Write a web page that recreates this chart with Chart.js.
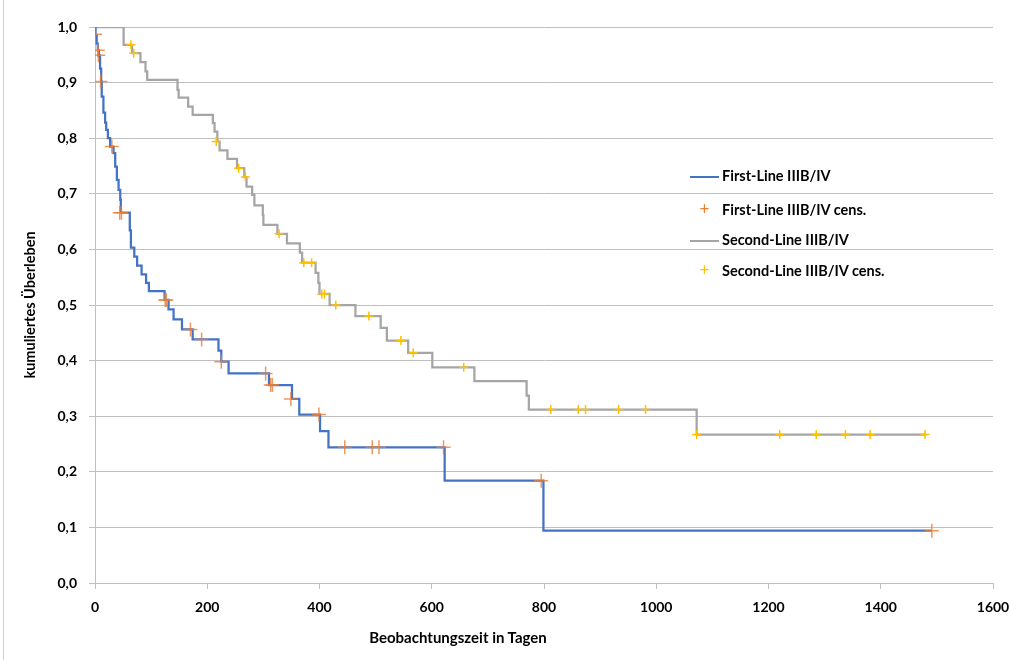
<!DOCTYPE html>
<html>
<head>
<meta charset="utf-8">
<script src="https://cdn.jsdelivr.net/npm/chart.js@4"></script>
<style>
  body { margin: 0; background: #fff; }
  #wrap { position: relative; width: 1009px; height: 660px; font-family: Lato, "Open Sans", sans-serif; overflow: hidden; }
  #frame { position: absolute; left: 3px; top: 0; height: 660px; border-left: 1px solid #d0d0d0; }
  #xtitle { position: absolute; left: 458px; top: 628px; transform: translateX(-50%); font-weight: bold; font-size: 15px; color: #000; white-space: nowrap; }
  .item { position: absolute; left: 690px; height: 20px; line-height: 20px; font-weight: bold; font-size: 14.5px; color: #000; white-space: nowrap; }
  .item .ln { display: inline-block; width: 29px; height: 2px; vertical-align: middle; margin-right: 3px; }
  .item .cx { display: inline-block; width: 29px; margin-right: 3px; text-align: center; font-weight: normal; font-size: 17px; }
</style>
</head>
<body>
<div id="wrap">
  <canvas id="chart" width="1009" height="660"></canvas>
  <div id="frame"></div>
  <div id="xtitle">Beobachtungszeit in Tagen</div>
  <div class="item" style="top:166px"><span class="ln" style="background:#4472C4"></span>First-Line IIIB/IV</div>
  <div class="item" style="top:199px"><span class="cx" style="color:#ED7D31">+</span>First-Line IIIB/IV cens.</div>
  <div class="item" style="top:230px"><span class="ln" style="background:#A5A5A5"></span>Second-Line IIIB/IV</div>
  <div class="item" style="top:260px"><span class="cx" style="color:#FFC000">+</span>Second-Line IIIB/IV cens.</div>
</div>
<script>
// first-line: Kaplan-Meier steps (day, survival after the event)
const firstDays = [0, 1, 3, 5, 7, 9, 11, 12, 15, 18, 20, 23, 27, 33, 36, 39, 42, 45, 46,
  62, 64, 70, 75, 83, 91, 96, 124, 131, 140, 155, 174, 220, 225, 238, 310, 351, 364,
  401, 416, 623, 799, 1491];
const firstSurv = [1.0, 0.985, 0.97, 0.958, 0.949, 0.925, 0.902, 0.875, 0.846, 0.828, 0.815, 0.80, 0.785,
  0.773, 0.749, 0.725, 0.707, 0.689, 0.666, 0.634, 0.603, 0.587, 0.571, 0.555, 0.540, 0.525,
  0.509, 0.492, 0.474, 0.456, 0.438, 0.418, 0.398, 0.377, 0.356, 0.331, 0.303, 0.273, 0.244,
  0.184, 0.094, 0.094];

// first-line censored
const firstCensDays = [0, 5, 6, 10, 30, 44, 47, 125, 127, 170, 190, 225, 304, 313, 316, 349,
  399, 445, 494, 506, 621, 795, 1491];
const firstCensSurv = [0.987, 0.958, 0.949, 0.902, 0.785, 0.666, 0.666, 0.509, 0.509, 0.456,
  0.438, 0.398, 0.377, 0.356, 0.356, 0.331, 0.303, 0.244, 0.244, 0.244, 0.244, 0.184, 0.094];

// second-line: Kaplan-Meier steps
const secondDays = [0, 51, 66, 81, 90, 93, 147, 149, 166, 174, 210, 213, 218, 222, 236, 253,
  266, 270, 280, 284, 299, 300, 325, 342, 365, 369, 393, 398, 400, 418, 464, 509, 520, 558,
  601, 676, 769, 773, 1072, 1479];
const secondSurv = [1.0, 0.968, 0.953, 0.937, 0.920, 0.905, 0.887, 0.873, 0.857, 0.842, 0.827,
  0.812, 0.794, 0.778, 0.763, 0.746, 0.730, 0.713, 0.698, 0.679, 0.662, 0.644, 0.628, 0.611,
  0.594, 0.576, 0.558, 0.540, 0.520, 0.500, 0.480, 0.459, 0.436, 0.414, 0.388, 0.363, 0.337,
  0.312, 0.267, 0.267];

// second-line censored
const secondCensDays = [64, 69, 216, 256, 268, 328, 372, 386, 404, 409, 429, 488, 545, 567,
  657, 812, 861, 874, 933, 981, 1072, 1220, 1285, 1337, 1381, 1479];
const secondCensSurv = [0.968, 0.953, 0.794, 0.746, 0.730, 0.628, 0.576, 0.576, 0.520, 0.520,
  0.500, 0.480, 0.436, 0.414, 0.388, 0.312, 0.312, 0.312, 0.312, 0.312, 0.267, 0.267, 0.267,
  0.267, 0.267, 0.267];

const xTicks = [0, 200, 400, 600, 800, 1000, 1200, 1400, 1600];

function pts(xs, ys) {
  return xs.map((x, i) => ({ x: x, y: ys[i] }));
}

const tickFont = { family: 'Lato', weight: 'bold', size: 14 };
const gridColor = '#BFBFBF';

new Chart(document.getElementById('chart'), {
  type: 'line',
  data: {
    datasets: [
      {
        label: 'First-Line IIIB/IV cens.',
        data: pts(firstCensDays, firstCensSurv),
        showLine: false,
        pointStyle: 'cross',
        pointRadius: 7,
        pointBorderWidth: 1.5,
        pointBorderColor: 'rgba(237,125,49,0.8)',
        order: 0,
      },
      {
        label: 'Second-Line IIIB/IV cens.',
        data: pts(secondCensDays, secondCensSurv),
        showLine: false,
        pointStyle: 'cross',
        pointRadius: 4.5,
        pointBorderWidth: 1.5,
        pointBorderColor: '#FFC000',
        order: 0,
      },
      {
        label: 'First-Line IIIB/IV',
        data: pts(firstDays, firstSurv),
        stepped: 'before',
        borderColor: '#4472C4',
        borderWidth: 2.25,
        pointRadius: 0,
        order: 1,
      },
      {
        label: 'Second-Line IIIB/IV',
        data: pts(secondDays, secondSurv),
        stepped: 'before',
        borderColor: '#A5A5A5',
        borderWidth: 2.25,
        pointRadius: 0,
        order: 1,
      },
    ],
  },
  options: {
    responsive: false,
    animation: false,
    layout: { padding: { top: 27, right: 16, left: 0, bottom: 0 } },
    plugins: {
      legend: { display: false },
      tooltip: { enabled: false },
    },
    scales: {
      x: {
        type: 'linear',
        min: 0,
        max: 1600,
        afterBuildTicks: (s) => { s.ticks = xTicks.map(v => ({ value: v })); },
        ticks: { font: tickFont, color: '#000', padding: 10, maxRotation: 0, callback: (v) => String(v) },
        grid: { drawOnChartArea: false, tickLength: 6, color: gridColor },
        border: { color: gridColor, width: 1 },
        afterFit: (s) => { s.height = 77; s.paddingRight = 0; s.paddingLeft = 0; },
      },
      y: {
        min: 0,
        max: 1,
        ticks: {
          stepSize: 0.1,
          font: tickFont,
          color: '#000',
          padding: 12,
          callback: (v) => v.toFixed(1).replace('.', ','),
        },
        grid: { color: gridColor, tickLength: 6 },
        border: { color: gridColor, width: 1 },
        title: {
          display: true,
          text: 'kumuliertes Überleben',
          font: { family: 'Lato', weight: 'bold', size: 14.5 },
          color: '#000',
          padding: { top: 22, bottom: 0 },
        },
        afterFit: (s) => { s.width = 95; },
      },
    },
  },
});
</script>
</body>
</html>
